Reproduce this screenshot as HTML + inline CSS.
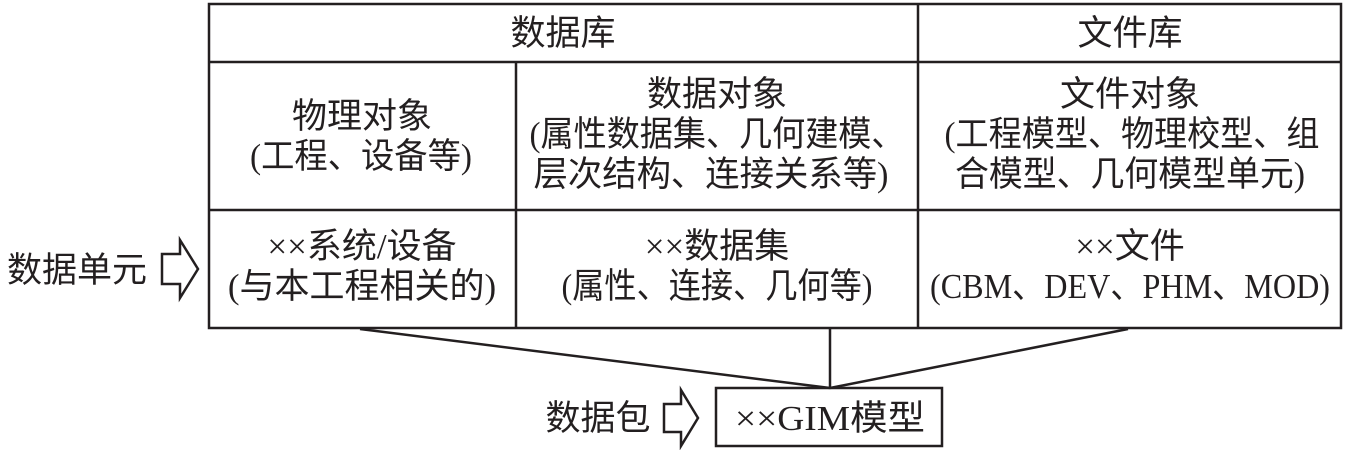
<!DOCTYPE html>
<html><head><meta charset="utf-8"><style>
html,body{margin:0;padding:0;background:#fff;}
svg{display:block}
text{font-family:"Liberation Serif","Noto Sans CJK SC",serif;font-size:35px;fill:#231f20;text-anchor:middle}
</style></head><body>
<svg width="1346" height="450" viewBox="0 0 1346 450">
<g stroke="#231f20" stroke-width="2.5" fill="none">
<rect x="209" y="4" width="1132" height="324"/>
<line x1="209" y1="62" x2="1341" y2="62"/>
<line x1="209" y1="210" x2="1341" y2="210"/>
<line x1="918" y1="4" x2="918" y2="328"/>
<line x1="516" y1="62" x2="516" y2="328"/>
<line x1="360" y1="329" x2="830" y2="388"/>
<line x1="830" y1="328" x2="830" y2="388"/>
<line x1="1128" y1="329" x2="830" y2="388"/>
<rect x="716" y="388" width="226" height="58"/>
<path d="M162 254 H180 V240 L198 269 L180 298 V284 H162 Z"/>
<path d="M664 404 H681 V390 L698 418 L681 446 V432 H664 Z"/>
</g>
<text x="563" y="45">数据库</text>
<text x="1130" y="45">文件库</text>
<text x="362" y="128">物理对象</text>
<text x="361" y="168" textLength="222" lengthAdjust="spacingAndGlyphs">(工程、设备等)</text>
<text x="717" y="106">数据对象</text>
<text x="717" y="146" textLength="375" lengthAdjust="spacingAndGlyphs">(属性数据集、几何建模、</text>
<text x="711" y="186" textLength="355" lengthAdjust="spacingAndGlyphs">层次结构、连接关系等)</text>
<text x="1130" y="106">文件对象</text>
<text x="1132" y="146" textLength="375" lengthAdjust="spacingAndGlyphs">(工程模型、物理校型、组</text>
<text x="1130" y="186" textLength="350" lengthAdjust="spacingAndGlyphs">合模型、几何模型单元)</text>
<text x="362" y="258">××系统/设备</text>
<text x="362" y="298">(与本工程相关的)</text>
<text x="717" y="258">××数据集</text>
<text x="717" y="298" textLength="311" lengthAdjust="spacingAndGlyphs">(属性、连接、几何等)</text>
<text x="1130" y="258">××文件</text>
<text x="1130" y="298" textLength="400" lengthAdjust="spacingAndGlyphs">(CBM、DEV、PHM、MOD)</text>
<text x="77" y="282">数据单元</text>
<text x="598" y="430">数据包</text>
<text x="830" y="430" textLength="190" lengthAdjust="spacingAndGlyphs">××GIM模型</text>
</svg>
</body></html>
